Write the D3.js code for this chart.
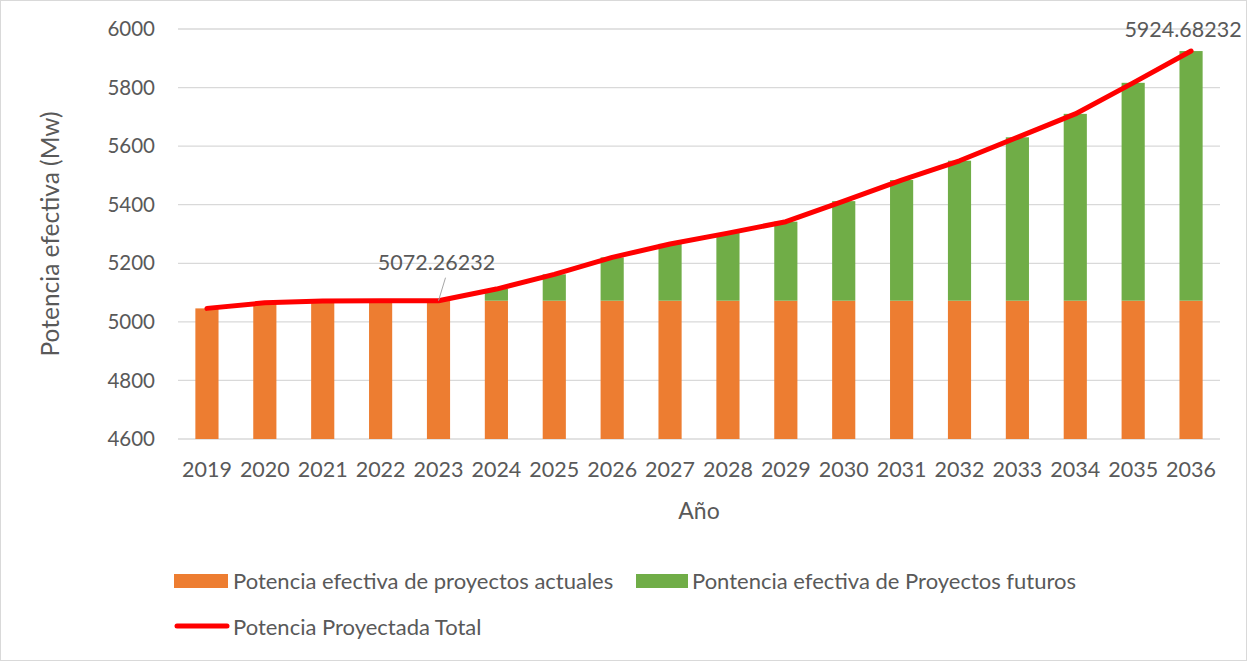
<!DOCTYPE html>
<html>
<head>
<meta charset="utf-8">
<script src="https://cdn.jsdelivr.net/npm/d3@7/dist/d3.min.js"></script>
<style>
  body { margin: 0; background: #fff; }
  text { font-family: Lato, "Open Sans", sans-serif; fill: #595959; }
</style>
</head>
<body>
<div id="chart"></div>
<script>
// values
const years = ["2019","2020","2021","2022","2023","2024","2025","2026","2027","2028","2029","2030","2031","2032","2033","2034","2035","2036"];
const actuales = [5046, 5065, 5071, 5072, 5072.26232, 5072.26232, 5072.26232, 5072.26232, 5072.26232, 5072.26232, 5072.26232, 5072.26232, 5072.26232, 5072.26232, 5072.26232, 5072.26232, 5072.26232, 5072.26232];
const futuros = [0, 0, 0, 0, 0, 40, 90, 148, 194, 231, 270, 340, 412, 478, 558, 638, 744, 852.42];
const totales = [5046, 5065, 5071, 5072, 5072.26232, 5112, 5162, 5220, 5266, 5303, 5342, 5412, 5484, 5550, 5630, 5710, 5816, 5924.68232];
const yTicks = [4600, 4800, 5000, 5200, 5400, 5600, 5800, 6000];
const labeled = [{i: 4, text: "5072.26232", dx: -2, dy: -38}, {i: 17, text: "5924.68232", dx: -8, dy: -22}];

const W = 1247, H = 661;
const margin = {top: 29, right: 27, bottom: 222, left: 178};
const width = W - margin.left - margin.right;
const height = H - margin.top - margin.bottom;

const svg = d3.select("#chart").append("svg")
    .attr("width", W)
    .attr("height", H);

svg.append("rect")
    .attr("x", 0.5).attr("y", 0.5)
    .attr("width", W - 1).attr("height", H - 1)
    .attr("fill", "#fff")
    .attr("stroke", "#d9d9d9");

const g = svg.append("g")
    .attr("transform", "translate(" + margin.left + "," + margin.top + ")");

const x = d3.scaleBand().domain(years).range([0, width]).paddingInner(0.6).paddingOuter(0.3);
const y = d3.scaleLinear().domain([4600, 6000]).range([height, 0]);

// gridlines
g.append("g")
    .selectAll("line")
    .data(yTicks)
    .enter()
    .append("line")
    .attr("x1", 0).attr("x2", width)
    .attr("y1", d => y(d)).attr("y2", d => y(d))
    .attr("stroke", "#d9d9d9")
    .attr("stroke-width", 1.3);

// y tick labels
g.append("g")
    .selectAll("text")
    .data(yTicks)
    .enter()
    .append("text")
    .attr("x", -23)
    .attr("y", d => y(d))
    .attr("dy", "0.35em")
    .attr("text-anchor", "end")
    .style("font-size", "20.5px")
    .text(d => d);

// x tick labels
g.append("g")
    .selectAll("text")
    .data(years)
    .enter()
    .append("text")
    .attr("x", d => x(d) + x.bandwidth() / 2)
    .attr("y", height + 38)
    .attr("text-anchor", "middle")
    .style("font-size", "21.5px")
    .text(d => d);

// stacked bars
g.append("g")
    .selectAll("rect")
    .data(years)
    .enter()
    .append("rect")
    .attr("x", d => x(d))
    .attr("width", x.bandwidth())
    .attr("y", (d, i) => y(actuales[i]))
    .attr("height", (d, i) => y(4600) - y(actuales[i]))
    .attr("fill", "#ed7d31");

g.append("g")
    .selectAll("rect")
    .data(years)
    .enter()
    .append("rect")
    .attr("x", d => x(d))
    .attr("width", x.bandwidth())
    .attr("y", (d, i) => y(actuales[i] + futuros[i]))
    .attr("height", (d, i) => y(actuales[i]) - y(actuales[i] + futuros[i]))
    .attr("fill", "#70ad47");

// total line
const line = d3.line()
    .x((d, i) => x(years[i]) + x.bandwidth() / 2)
    .y(d => y(d));

g.append("path")
    .datum(totales)
    .attr("d", line)
    .attr("fill", "none")
    .attr("stroke", "#ff0000")
    .attr("stroke-width", 5)
    .attr("stroke-linecap", "round")
    .attr("stroke-linejoin", "round");

// data labels
labeled.forEach(l => {
    const px = x(years[l.i]) + x.bandwidth() / 2;
    const py = y(totales[l.i]);
    if (l.i === 4) {
        g.append("line")
            .attr("x1", px + 7).attr("y1", py - 23)
            .attr("x2", px).attr("y2", py)
            .attr("stroke", "#a6a6a6")
            .attr("stroke-width", 1);
    }
    g.append("text")
        .attr("x", px + l.dx)
        .attr("y", py + l.dy)
        .attr("dy", "0.35em")
        .attr("text-anchor", "middle")
        .style("font-size", "21.5px")
        .text(l.text);
});

// axis titles
g.append("text")
    .attr("x", width / 2)
    .attr("y", height + 80)
    .attr("text-anchor", "middle")
    .style("font-size", "23px")
    .text("Año");

svg.append("text")
    .attr("transform", "translate(50," + (margin.top + height / 2) + ") rotate(-90)")
    .attr("dy", "0.35em")
    .attr("text-anchor", "middle")
    .style("font-size", "24.5px")
    .text("Potencia efectiva (Mw)");

// legend
const legend = svg.append("g");
legend.append("rect").attr("x", 174).attr("y", 574).attr("width", 54).attr("height", 14).attr("fill", "#ed7d31");
legend.append("text").attr("x", 233).attr("y", 581).attr("dy", "0.35em").style("font-size", "22px")
    .text("Potencia efectiva de proyectos actuales");
legend.append("rect").attr("x", 636).attr("y", 574).attr("width", 52).attr("height", 14).attr("fill", "#70ad47");
legend.append("text").attr("x", 692).attr("y", 581).attr("dy", "0.35em").style("font-size", "22px")
    .text("Pontencia efectiva de Proyectos futuros");
legend.append("line").attr("x1", 177).attr("x2", 227).attr("y1", 626).attr("y2", 626)
    .attr("stroke", "#ff0000").attr("stroke-width", 5).attr("stroke-linecap", "round");
legend.append("text").attr("x", 233).attr("y", 627).attr("dy", "0.35em").style("font-size", "22px")
    .text("Potencia Proyectada Total");
</script>
</body>
</html>
